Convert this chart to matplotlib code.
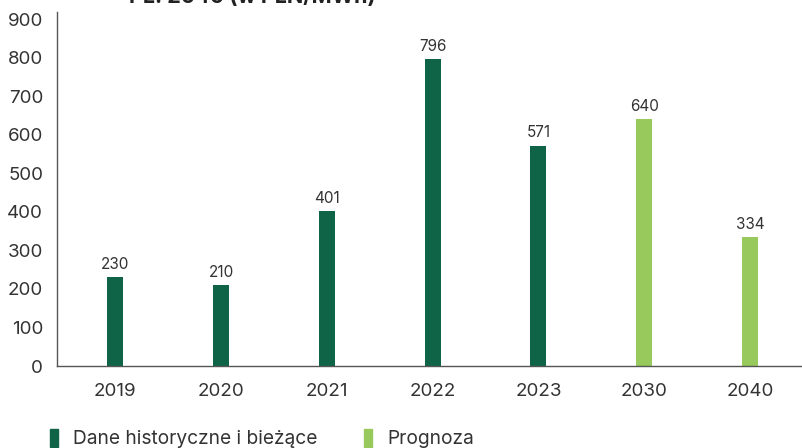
import matplotlib.pyplot as plt
from matplotlib.patches import Rectangle

years = ['2019', '2020', '2021', '2022', '2023', '2030', '2040']
prices = [230, 210, 401, 796, 571, 640, 334]
is_forecast = [False, False, False, False, False, True, True]

dark_green = '#0f6448'
light_green = '#97c95c'
text_color = '#333333'

plt.rcParams['font.family'] = ['Inter', 'DejaVu Sans']

fig = plt.figure(figsize=(8.02, 4.48), dpi=100)
# axes run slightly past the right edge of the canvas
ax = fig.add_axes([0.0711, 0.183, 0.930, 0.790])

x = range(len(years))
colors = [light_green if f else dark_green for f in is_forecast]
ax.bar(x, prices, width=0.15, color=colors)

for xi, v in zip(x, prices):
    ax.text(xi, v + 14, str(v), ha='center', va='bottom', fontsize=11, color=text_color)

ax.set_xlim(-0.55, len(years) - 0.5)
ax.set_ylim(0, 918)
ax.set_yticks(range(0, 901, 100))
ax.set_xticks(list(x))
ax.set_xticklabels(years)
ax.tick_params(axis='both', length=0, labelsize=13.5, colors=text_color)
ax.tick_params(axis='x', pad=12)
ax.tick_params(axis='y', pad=10)

for side in ['top', 'right']:
    ax.spines[side].set_visible(False)
for side in ['left', 'bottom']:
    ax.spines[side].set_color('#555555')
    ax.spines[side].set_linewidth(1.0)

# title sits partly above the canvas
fig.text(0.314, 1.006, 'PL: 2040 (w PLN/MWh)', ha='center', va='center',
         fontsize=15.5, fontweight='bold', color='#222222')

# legend with thin bar markers
handles = [Rectangle((0, 0), 1, 1, color=dark_green), Rectangle((0, 0), 1, 1, color=light_green)]
fig.legend(handles, ['Dane historyczne i bieżące', 'Prognoza'], loc='lower left',
           bbox_to_anchor=(0.041, -0.039), ncol=2, frameon=False, fontsize=13.8,
           handlelength=0.4, handleheight=1.1, handletextpad=0.8, columnspacing=2.45,
           labelcolor=text_color)

fig.savefig('out.png', dpi=100)
